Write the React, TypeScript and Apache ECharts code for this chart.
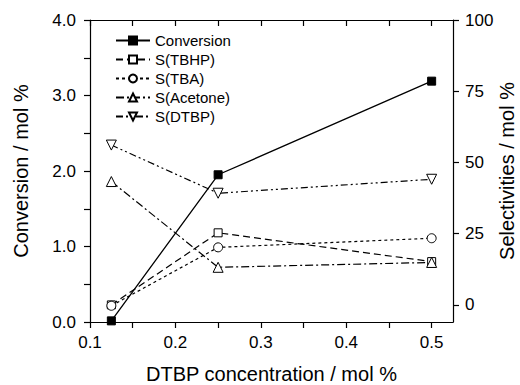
import React, { useEffect, useRef } from "react";
import * as echarts from "echarts";

const concentrations = [0.125, 0.25, 0.5];
const conversion = [0.015, 1.95, 3.19];
const sTBHP = [0, 25.3, 15.2];
const sTBA = [-0.3, 20.2, 23.4];
const sAcetone = [43.3, 13.2, 14.9];
const sDTBP = [56.1, 39.2, 44.1];

const xTicks = [0.1, 0.15, 0.2, 0.25, 0.3, 0.35, 0.4, 0.45, 0.5];
const xLabels = [0.1, 0.2, 0.3, 0.4, 0.5];
const leftTicks = [0, 0.5, 1, 1.5, 2, 2.5, 3, 3.5, 4];
const leftLabels = [0, 1, 2, 3, 4];
const rightTicks = [0, 25, 50, 75, 100];

const FONT = "Liberation Sans, Arial, sans-serif";

export default function App() {
  const ref = useRef<HTMLDivElement>(null);
  useEffect(() => {
    document.body.style.margin = "0";
    if (!ref.current) return;
    const chart = echarts.init(ref.current, null, { renderer: "svg" });
    const pair = (vals: number[]) => concentrations.map((c, i) => [c, vals[i]]);
    const axisLine = { show: true, onZero: false, lineStyle: { color: "#000", width: 1.2 } };
    const nameStyle = { fontSize: 20, lineHeight: 20, color: "#000", fontFamily: FONT };
    const mkSeries = (
      name: string,
      vals: number[],
      yAxisIndex: number,
      symbol: string,
      symbolSize: number,
      lineType: any,
      fill: string,
      rotate = 0,
      width = 1.2
    ) => ({
      name,
      type: "line",
      yAxisIndex,
      data: pair(vals),
      symbol,
      symbolSize,
      symbolRotate: rotate,
      showAllSymbol: true,
      lineStyle: { color: "#000", width, type: lineType },
      itemStyle: { color: fill, borderColor: "#000", borderWidth: 1 },
      emphasis: { disabled: true },
    });
    chart.setOption({
      animation: false,
      textStyle: { fontFamily: FONT, color: "#000" },
      grid: { left: 90, right: 67, top: 20, bottom: 63, containLabel: false, outerBoundsMode: "none" },
      legend: {
        orient: "vertical",
        left: 110,
        top: 28,
        itemWidth: 34,
        itemHeight: 10,
        itemGap: 4,
        textStyle: { fontSize: 15, color: "#000", fontFamily: FONT },
        data: ["Conversion", "S(TBHP)", "S(TBA)", "S(Acetone)", "S(DTBP)"],
      },
      xAxis: [
        {
          type: "value",
          min: 0.1,
          max: 0.525,
          position: "bottom",
          name: "DTBP concentration / mol %",
          nameLocation: "middle",
          nameGap: 42,
          nameMoveOverlap: false,
          nameTextStyle: nameStyle,
          axisLine,
          axisTick: { show: true, length: 6, customValues: xTicks, lineStyle: { color: "#000", width: 1.2 } },
          axisLabel: {
            show: true,
            customValues: xLabels,
            margin: 12,
            fontSize: 17,
            color: "#000",
            fontFamily: FONT,
            formatter: (v: number) => v.toFixed(1),
          },
          splitLine: { show: false },
        },
        {
          type: "value",
          min: 0.1,
          max: 0.525,
          position: "top",
          axisLine,
          axisTick: { show: true, inside: true, length: 6, customValues: xTicks, lineStyle: { color: "#000", width: 1.2 } },
          axisLabel: { show: false },
          splitLine: { show: false },
        },
      ],
      yAxis: [
        {
          type: "value",
          min: 0,
          max: 4,
          position: "left",
          name: "Conversion / mol %",
          nameLocation: "middle",
          nameGap: 59,
          nameMoveOverlap: false,
          nameTextStyle: nameStyle,
          axisLine,
          axisTick: { show: true, length: 6, customValues: leftTicks, lineStyle: { color: "#000", width: 1.2 } },
          axisLabel: {
            show: true,
            customValues: leftLabels,
            margin: 14,
            fontSize: 17,
            color: "#000",
            fontFamily: FONT,
            formatter: (v: number) => v.toFixed(1),
          },
          splitLine: { show: false },
        },
        {
          type: "value",
          min: -6,
          max: 100,
          position: "right",
          name: "Selectivities / mol %",
          nameLocation: "middle",
          nameGap: 44,
          nameMoveOverlap: false,
          nameTextStyle: nameStyle,
          axisLine,
          axisTick: { show: true, length: 6, customValues: rightTicks, lineStyle: { color: "#000", width: 1.2 } },
          axisLabel: {
            show: true,
            customValues: rightTicks,
            margin: 12,
            fontSize: 17,
            color: "#000",
            fontFamily: FONT,
          },
          splitLine: { show: false },
        },
      ],
      series: [
        mkSeries("S(TBHP)", sTBHP, 1, "rect", 8, [7, 4], "#fff"),
        mkSeries("S(TBA)", sTBA, 1, "circle", 9, [3, 3], "#fff"),
        mkSeries("S(Acetone)", sAcetone, 1, "triangle", 10, [8, 3, 2, 3], "#fff"),
        mkSeries("S(DTBP)", sDTBP, 1, "triangle", 10, [7, 3, 2, 3, 2, 3], "#fff", 180),
        mkSeries("Conversion", conversion, 0, "rect", 8, "solid", "#000", 0, 1.3),
      ],
    });
    return () => chart.dispose();
  }, []);
  return <div ref={ref} style={{ width: 520, height: 385 }} />;
}
